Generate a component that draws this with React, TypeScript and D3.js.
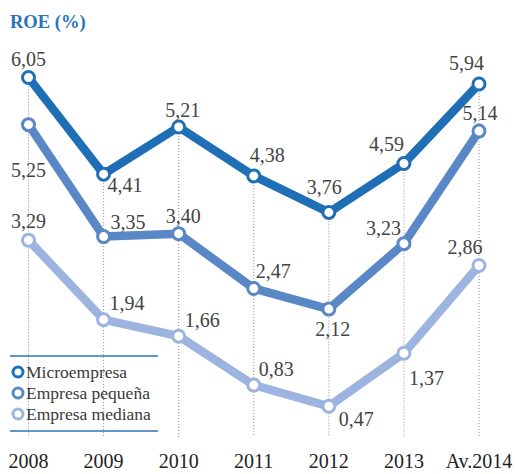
import React from "react";
import * as d3 from "d3";

const years = ["2008", "2009", "2010", "2011", "2012", "2013", "Av.2014"];
const microempresa = [6.05, 4.41, 5.21, 4.38, 3.76, 4.59, 5.94];
const pequena = [5.25, 3.35, 3.4, 2.47, 2.12, 3.23, 5.14];
const mediana = [3.29, 1.94, 1.66, 0.83, 0.47, 1.37, 2.86];
const seriesNames = ["Microempresa", "Empresa pequeña", "Empresa mediana"];

// label placement: [dx, dy, anchor]
type LP = [number, number, string];
const microLabels: LP[] = [
  [0, -12, "middle"], [4, 18, "start"], [4, -10, "middle"], [-4, -14, "start"],
  [-4.5, -18, "middle"], [0, -13, "end"], [-12.5, -14, "middle"],
];
const pequenaLabels: LP[] = [
  [0, 52, "middle"], [7, -8, "start"], [4.5, -11, "middle"], [2, -10, "start"],
  [4, 27, "middle"], [-3, -9, "end"], [1, -11, "middle"],
];
const medianaLabels: LP[] = [
  [0, -12, "middle"], [6, -10, "start"], [6, -9, "start"], [5, -9, "start"],
  [10, 20, "start"], [5, 32, "start"], [-14, -11, "middle"],
];

const colors = ["#1f6fb6", "#5a87c6", "#9db3e0"];
const fmt = (v: number) => v.toFixed(2).replace(".", ",");

export default function App() {
  const W = 515, H = 474;
  const x = d3.scalePoint<string>().domain(years).range([28.5, 479]);
  const y = d3.scaleLinear().domain([0, 6.05]).range([434, 77.5]);
  const all = [microempresa, pequena, mediana];
  const labels = [microLabels, pequenaLabels, medianaLabels];
  const line = d3
    .line<number>()
    .x((_, i) => x(years[i]) as number)
    .y((d) => y(d));
  const serif = "'Liberation Serif', serif";
  const gridBottom = 437;
  const legendY = [372, 393, 414];

  return (
    <svg width={W} height={H} style={{ position: "absolute", left: 0, top: 0, background: "#fff" }}>
      <text x={10} y={28} fontFamily={serif} fontWeight="bold" fontSize={18.5} fill="#2b73b9">
        ROE (%)
      </text>
      {years.map((yr, i) => {
        const top = Math.min(...all.map((s) => y(s[i])));
        return (
          <line
            key={yr}
            x1={x(yr)}
            x2={x(yr)}
            y1={top}
            y2={gridBottom}
            stroke="#8a8a8a"
            strokeWidth={1}
            strokeDasharray="1,2"
          />
        );
      })}
      {/* legend */}
      <line x1={10} x2={158} y1={356} y2={356} stroke="#2b73b9" strokeWidth={1.3} />
      <line x1={10} x2={158} y1={431} y2={431} stroke="#2b73b9" strokeWidth={1.3} />
      {seriesNames.map((n, i) => (
        <g key={n}>
          <circle cx={18} cy={legendY[i]} r={5} fill="#fff" stroke={colors[i]} strokeWidth={3} />
          <text x={26} y={legendY[i] + 6} fontFamily={serif} fontSize={17.5} fill="#3a3a3a">
            {n}
          </text>
        </g>
      ))}
      {[2, 1, 0].map((si) => (
        <path
          key={"l" + si}
          d={line(all[si]) || ""}
          fill="none"
          stroke={colors[si]}
          strokeWidth={8.5}
          strokeLinejoin="round"
          strokeLinecap="round"
        />
      ))}
      {[2, 1, 0].map((si) =>
        all[si].map((v, i) => (
          <circle
            key={"c" + si + i}
            cx={x(years[i])}
            cy={y(v)}
            r={6}
            fill="#fff"
            stroke={colors[si]}
            strokeWidth={3}
          />
        ))
      )}
      {all.map((s, si) =>
        s.map((v, i) => {
          const [dx, dy, anchor] = labels[si][i];
          return (
            <text
              key={"t" + si + i}
              x={(x(years[i]) as number) + dx}
              y={y(v) + dy}
              textAnchor={anchor}
              fontFamily={serif}
              fontSize={20}
              fill="#444"
            >
              {fmt(v)}
            </text>
          );
        })
      )}
      {years.map((yr) => (
        <text
          key={"x" + yr}
          x={x(yr)}
          y={468}
          textAnchor="middle"
          fontFamily={serif}
          fontSize={20}
          fill="#222"
        >
          {yr}
        </text>
      ))}
    </svg>
  );
}
